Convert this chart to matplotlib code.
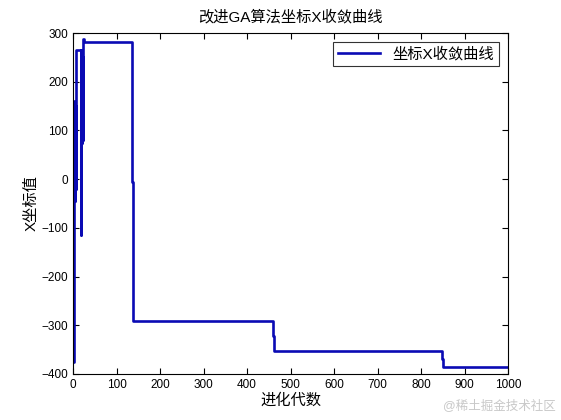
import matplotlib
matplotlib.use("Agg")
import matplotlib.pyplot as plt

plt.rcParams['font.family'] = ['Liberation Sans', 'Noto Sans CJK SC', 'DejaVu Sans']

# breakpoints of the convergence curve (generation, X value), held until next breakpoint
generations = [0, 3, 4, 5, 6, 8, 18, 19, 20, 21, 22, 23, 25, 136, 139, 459, 461, 848, 850, 1000]
x_values = [-375, 160, -45, 150, -20, 265, -115, 265, 75, 250, 80, 288, 281, -5, -291, -323, -352, -370, -386, -386]

title = "改进GA算法坐标X收敛曲线"
legend_label = "坐标X收敛曲线"
xlabel = "进化代数"
ylabel = "X坐标值"
xticks = [0, 100, 200, 300, 400, 500, 600, 700, 800, 900, 1000]
yticks = [-400, -300, -200, -100, 0, 100, 200, 300]

fig = plt.figure(figsize=(5.61, 4.20), dpi=100)
ax = fig.add_axes([73/561, 1-374/420, (508-73)/561, (374-33)/420])

ax.plot(generations, x_values, drawstyle='steps-post', color='#0a0ab4', lw=1.9, label=legend_label)

ax.set_xlim(0, 1000)
ax.set_ylim(-400, 300)
ax.set_xticks(xticks)
ax.set_yticks(yticks)
ax.tick_params(direction='in', top=True, right=True, labelsize=8.5, length=4, width=0.8)
for s in ax.spines.values():
    s.set_linewidth(0.8)

ax.set_title(title, fontsize=11, pad=8)
ax.set_xlabel(xlabel, fontsize=11, labelpad=2)
ax.set_ylabel(ylabel, fontsize=11, labelpad=2)

leg = ax.legend(loc='upper right', fontsize=11, frameon=True, fancybox=False,
                edgecolor='black', handlelength=2.8, borderpad=0.3,
                borderaxespad=0.6)
leg.get_frame().set_linewidth(0.8)

fig.text(0.99, 0.02, "@稀土掘金技术社区", ha='right', va='bottom', fontsize=9,
         color='#c8c8c8')

fig.savefig("out.png", dpi=100)
